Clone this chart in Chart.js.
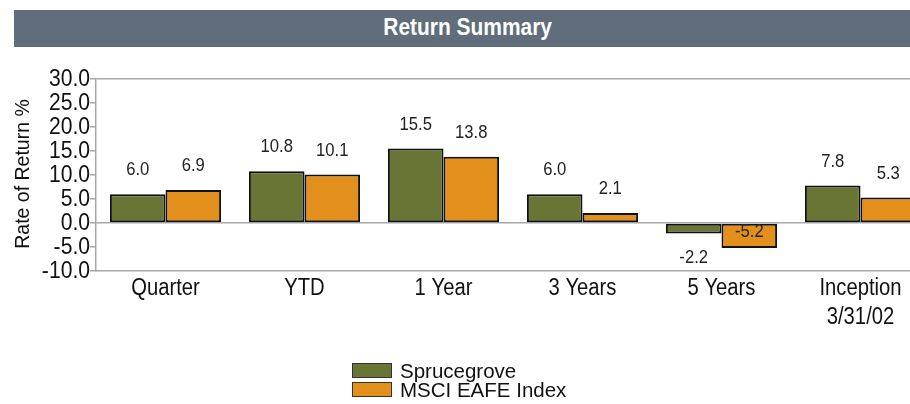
<!DOCTYPE html>
<html>
<head>
<meta charset="utf-8">
<script src="https://cdn.jsdelivr.net/npm/chart.js@4.4.1/dist/chart.umd.min.js"></script>
<style>
  html, body { margin: 0; padding: 0; background: #fff; overflow: hidden; width: 910px; height: 404px; }
  #wrap { position: relative; width: 910px; height: 404px; overflow: hidden; }
  #titlebar {
    position: absolute; left: 14px; top: 10px; width: 908px; height: 37px;
    background: #5f6e7a; color: #fff; text-align: center; line-height: 35px;
    font-family: "Liberation Sans", Arial, sans-serif;
    font-weight: bold; font-size: 23px;
  }
  #titlebar span { display: inline-block; transform: scaleX(0.91); transform-origin: center; }
  #chartBox { position: absolute; left: 0; top: 0; width: 940px; height: 404px; }
  #legend { position: absolute; left: 352px; top: 361px; }
  .item { display: flex; align-items: center; height: 19px; }
  .swatch { width: 40px; height: 15px; border: 1px solid #333; margin-right: 8px; box-sizing: border-box; }
  .lbl { font-family: "Liberation Sans", Arial, sans-serif; font-size: 20.5px; color: #111; }
</style>
</head>
<body>
<div id="wrap">
  <div id="chartBox"><canvas id="c" width="940" height="404"></canvas></div>
  <div id="titlebar"><span>Return Summary</span></div>
  <div id="legend"></div>
</div>
<script>
// Return periods and figures
const categories = ["Quarter", "YTD", "1 Year", "3 Years", "5 Years", ["Inception", "3/31/02"]];
const seriesNames = ["Sprucegrove", "MSCI EAFE Index"];
const sprucegrove = [6.0, 10.8, 15.5, 6.0, -2.2, 7.8];
const msciEafe = [6.9, 10.1, 13.8, 2.1, -5.2, 5.3];
const yTicks = [30, 25, 20, 15, 10, 5, 0, -5, -10];
const yTitle = "Rate of Return %";
const seriesColors = ["#687535", "#e28f1c"];

const sans = '"Liberation Sans", Arial, sans-serif';

// Horizontal squeeze for canvas text, giving the condensed look of the labels
let squeeze = 0.88;
const condensedText = {
  id: 'condensedText',
  beforeInit(chart) {
    const ctx = chart.ctx;
    const orig = ctx.fillText.bind(ctx);
    ctx.fillText = function (t, x, y, mw) {
      this.save();
      this.translate(x, y);
      this.scale(squeeze, 1);
      if (mw === undefined) orig(t, 0, 0); else orig(t, 0, 0, mw / squeeze);
      this.restore();
    };
  }
};

// Rotated y-axis title at regular width
const yAxisTitle = {
  id: 'yAxisTitle',
  afterDraw(chart) {
    const ctx = chart.ctx;
    ctx.save();
    squeeze = 1;
    ctx.translate(29, 174);
    ctx.rotate(-Math.PI / 2);
    ctx.font = '19.5px ' + sans;
    ctx.fillStyle = '#111';
    ctx.textAlign = 'center';
    ctx.textBaseline = 'alphabetic';
    ctx.fillText(yTitle, 0, 0);
    squeeze = 0.88;
    ctx.restore();
  }
};

// Value labels above positive bars, below negative ones (inside if no room)
const valueLabels = {
  id: 'valueLabels',
  afterDatasetsDraw(chart) {
    const ctx = chart.ctx;
    const area = chart.chartArea;
    const base = chart.scales.y.getPixelForValue(0);
    ctx.save();
    squeeze = 0.9;
    ctx.font = '18.5px ' + sans;
    ctx.fillStyle = '#222';
    ctx.textAlign = 'center';
    ctx.textBaseline = 'middle';
    chart.data.datasets.forEach((ds, di) => {
      chart.getDatasetMeta(di).data.forEach((bar, i) => {
        const v = ds.data[i];
        let y;
        if (v >= 0) {
          y = bar.y - 24;
        } else {
          y = bar.y + 24;
          if (y > area.bottom - 8) y = base + 9;
        }
        ctx.fillText(v.toFixed(1), bar.x, y);
      });
    });
    squeeze = 0.88;
    ctx.restore();
  }
};

new Chart(document.getElementById('c'), {
  type: 'bar',
  data: {
    labels: categories,
    datasets: [
      { label: seriesNames[0], data: sprucegrove, backgroundColor: seriesColors[0], borderColor: '#111', borderWidth: 2, borderSkipped: false },
      { label: seriesNames[1], data: msciEafe, backgroundColor: seriesColors[1], borderColor: '#111', borderWidth: 2, borderSkipped: false }
    ]
  },
  options: {
    responsive: false,
    animation: false,
    layout: { padding: { top: 79, left: 0, right: 10, bottom: 0 } },
    datasets: { bar: { categoryPercentage: 0.8, barPercentage: 1.0 } },
    plugins: { legend: { display: false }, tooltip: { enabled: false }, title: { display: false } },
    scales: {
      x: {
        grid: { display: false },
        border: { display: true, color: '#a8a8a8', width: 1.5 },
        ticks: { color: '#111', font: { family: sans, size: 23, lineHeight: 1.26 }, padding: -5, maxRotation: 0, autoSkip: false },
        afterFit(scale) { scale.height = 133; }
      },
      y: {
        min: -10, max: 30,
        afterBuildTicks(scale) { scale.ticks = yTicks.map(v => ({ value: v })); },
        grid: {
          drawOnChartArea: true,
          drawTicks: true,
          tickLength: 6,
          tickColor: '#a8a8a8',
          lineWidth: 1.5,
          color(ctx) {
            const v = ctx.tick && ctx.tick.value;
            return (v === 0 || v === 30) ? '#a8a8a8' : 'rgba(0,0,0,0)';
          }
        },
        border: { display: true, color: '#a8a8a8', width: 1.5 },
        ticks: { color: '#111', font: { family: sans, size: 24, lineHeight: 1 }, padding: 0, autoSkip: false, callback: v => v.toFixed(1) },
        title: { display: false },
        afterFit(scale) { scale.width = 96; }
      }
    }
  },
  plugins: [condensedText, valueLabels, yAxisTitle]
});

// Stacked legend below the chart
const legend = document.getElementById('legend');
seriesNames.forEach((name, i) => {
  const row = document.createElement('div');
  row.className = 'item';
  const sw = document.createElement('div');
  sw.className = 'swatch';
  sw.style.background = seriesColors[i];
  const t = document.createElement('span');
  t.className = 'lbl';
  t.textContent = name;
  row.appendChild(sw);
  row.appendChild(t);
  legend.appendChild(row);
});
</script>
</body>
</html>
